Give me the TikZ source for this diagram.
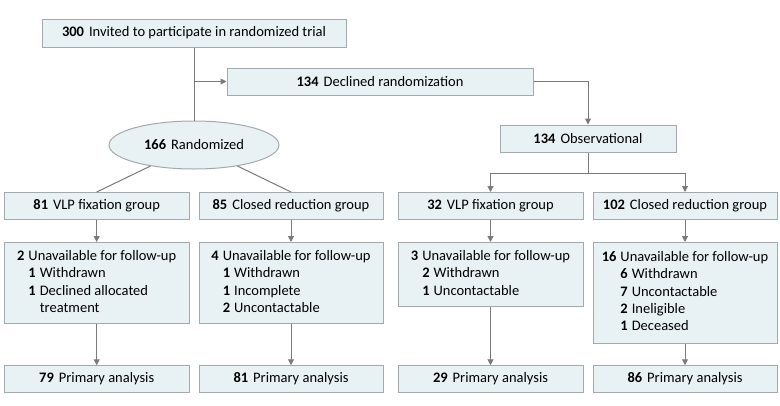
\documentclass[tikz,border=0pt]{standalone}
\usepackage{fontspec}
\setmainfont{Carlito}
\usetikzlibrary{arrows.meta,shapes.geometric}
\definecolor{boxfill}{HTML}{E8F2F5}
\definecolor{boxline}{HTML}{A3A9AD}
\definecolor{conn}{HTML}{7A7A7A}
\tikzset{
  box/.style={draw=boxline, fill=boxfill, line width=1pt, inner sep=0pt, align=center,
    font=\fontsize{14.5}{17.3}\selectfont},
  ell/.style={box, ellipse, minimum width=170pt, minimum height=48pt},
  conline/.style={draw=conn, line width=1pt},
  arr/.style={conline, -{Triangle[length=6pt,width=6pt]}}
}
\newcommand{\itemtab}[1]{\begin{tabular}{@{}l@{\hspace{4pt}}l@{\hspace{4pt}}l@{}}#1\end{tabular}}
\newcommand{\nm}[1]{\textbf{#1}\hspace{5pt}}
\begin{document}
\begin{tikzpicture}[x=1pt,y=-1pt]
\useasboundingbox (0,0) rectangle (780,405);
% top
\node[box, minimum width=304pt, minimum height=28pt] (top) at (194,33) {\nm{300}Invited to participate in randomized trial};
\node[box, minimum width=306pt, minimum height=27pt] (decl) at (380,81.5) {\nm{134}Declined randomization};
\node[ell] (rand) at (194,145) {\nm{166}Randomized};
\node[box, minimum width=176pt, minimum height=27pt] (obs) at (588,138.5) {\nm{134}Observational};
% row 2
\node[box, minimum width=185pt, minimum height=27pt] (ga) at (96.7,206) {\nm{81}VLP fixation group};
\node[box, minimum width=184pt, minimum height=27pt] (gb) at (291,206) {\nm{85}Closed reduction group};
\node[box, minimum width=185pt, minimum height=27pt] (gc) at (490.5,206) {\nm{32}VLP fixation group};
\node[box, minimum width=184pt, minimum height=27pt] (gd) at (685,206) {\nm{102}Closed reduction group};
% row 3
\node[box, anchor=north, minimum width=185pt, minimum height=81pt] (ua) at (96.7,242) {\itemtab{%
  \textbf{2} & \multicolumn{2}{@{}l@{}}{Unavailable for follow-up}\\
  & \textbf{1} & Withdrawn\\
  & \textbf{1} & Declined allocated\\
  & & treatment}};
\node[box, anchor=north, minimum width=184pt, minimum height=81pt] (ub) at (291,242) {\itemtab{%
  \textbf{4} & \multicolumn{2}{@{}l@{}}{Unavailable for follow-up}\\
  & \textbf{1} & Withdrawn\\
  & \textbf{1} & Incomplete\\
  & \textbf{2} & Uncontactable}};
\node[box, anchor=north, minimum width=185pt, minimum height=63.5pt] (uc) at (490.5,242) {\itemtab{%
  \textbf{3} & \multicolumn{2}{@{}l@{}}{Unavailable for follow-up}\\
  & \textbf{2} & Withdrawn\\
  & \textbf{1} & Uncontactable}};
\node[box, anchor=north, minimum width=184pt, minimum height=100.5pt] (ud) at (685,242) {\itemtab{%
  \textbf{16} & \multicolumn{2}{@{}l@{}}{Unavailable for follow-up}\\
  & \textbf{6} & Withdrawn\\
  & \textbf{7} & Uncontactable\\
  & \textbf{2} & Ineligible\\
  & \textbf{1} & Deceased}};
% row 4
\node[box, minimum width=185pt, minimum height=26.5pt] (pa) at (96.7,379) {\nm{79}Primary analysis};
\node[box, minimum width=184pt, minimum height=26.5pt] (pb) at (291,379) {\nm{81}Primary analysis};
\node[box, minimum width=185pt, minimum height=26.5pt] (pc) at (490.5,379) {\nm{29}Primary analysis};
\node[box, minimum width=184pt, minimum height=26.5pt] (pd) at (685,379) {\nm{86}Primary analysis};
% connectors
\draw[conline] (top.south) -- (rand.north);
\draw[arr] (top.south |- decl.west) -- (decl.west);
\draw[arr] (decl.east) -| (obs.north);
\draw[conline] (obs.south) -- ++(0,21) coordinate (split);
\draw[arr] (split) -| (gc.north);
\draw[arr] (split) -| (gd.north);
\draw[conline] (rand) -- (ga.north);
\draw[conline] (rand) -- (gb.north);
\foreach \g/\u/\p in {ga/ua/pa, gb/ub/pb, gc/uc/pc, gd/ud/pd}{
  \draw[arr] (\g.south) -- (\u.north);
  \draw[arr] (\u.south) -- (\p.north);
}
\end{tikzpicture}
\end{document}
